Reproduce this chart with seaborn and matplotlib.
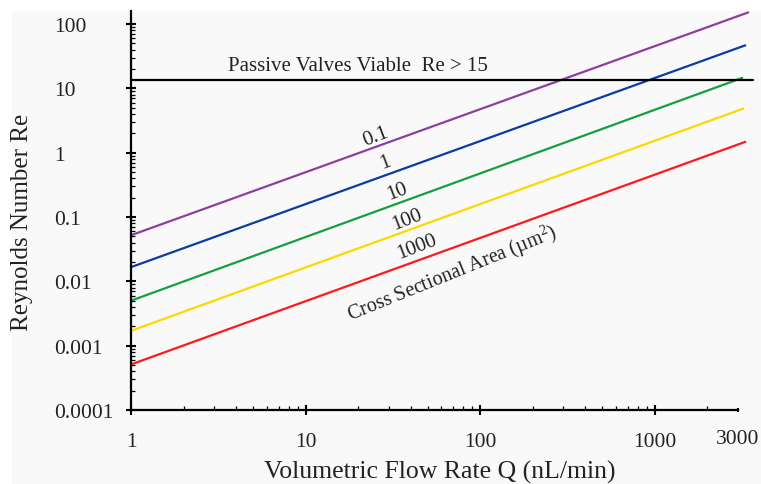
import numpy as np
import pandas as pd
import matplotlib
matplotlib.use('Agg')
import matplotlib.pyplot as plt
from matplotlib.patches import Rectangle
from matplotlib.ticker import LogLocator, NullFormatter
import seaborn as sns

# values (log-log straight lines, two ends each)
areas = ['0.1', '1', '10', '100', '1000']
q_start = [1, 1, 1, 1, 1]
q_end = [3430, 3300, 3170, 3220, 3300]
re_start = [0.052, 0.0166, 0.0050, 0.0017, 0.00051]
re_end = [151, 46.5, 14.5, 4.84, 1.47]
colors = ['#8b3fa0', '#0c3c9c', '#14a040', '#ffd700', '#ff1a1a']

threshold = 13.3
threshold_q = [1, 3660]

# label positions (data coords)
label_q = [25.4, 28.6, 33.4, 38.2, 43.5]
label_re = [1.80, 0.71, 0.252, 0.0925, 0.0352]

x_ticks = [1, 10, 100, 1000, 3000]
x_ticklabels = ['1', '10', '100', '1000', '3000']
y_ticks = [0.0001, 0.001, 0.01, 0.1, 1, 10, 100]
y_ticklabels = ['0.0001', '0.001', '0.01', '0.1', '1', '10', '100']

rows = []
for a, qs, qe, rs, re_ in zip(areas, q_start, q_end, re_start, re_end):
    rows.append({'area': a, 'Q': qs, 'Re': rs})
    rows.append({'area': a, 'Q': qe, 'Re': re_})
df = pd.DataFrame(rows)

sns.set_theme(style='ticks')
plt.rcParams['font.family'] = ['Liberation Serif', 'DejaVu Serif']
plt.rcParams['mathtext.fontset'] = 'custom'
plt.rcParams['mathtext.rm'] = 'Liberation Serif'
txt = '#222222'

fig = plt.figure(figsize=(7.61, 4.85), dpi=100)
fig.patch.set_facecolor('white')
fig.patches.append(Rectangle((12 / 761, 0), 1, 1 - 12 / 485, transform=fig.transFigure,
                             facecolor='#f9f9f9', edgecolor='none', zorder=-10))
ax = fig.add_axes([131 / 761, 74 / 485, 607 / 761, 399 / 485])
ax.set_facecolor('none')

sns.lineplot(data=df, x='Q', y='Re', hue='area', palette=colors, linewidth=1.6,
             legend=False, ax=ax)
for line in ax.get_lines():
    line.set_clip_on(False)
ax.plot(threshold_q, [threshold, threshold], color='black', linewidth=1.6, clip_on=False)

ax.set_xscale('log')
ax.set_yscale('log')
ax.set_xlim(1, 3000)
ax.set_ylim(1e-4, 159)

sns.despine(ax=ax)
for s in ['left', 'bottom']:
    ax.spines[s].set_linewidth(1.6)
    ax.spines[s].set_color('black')

ax.set_xticks(x_ticks)
ax.set_xticklabels(x_ticklabels)
ax.set_yticks(y_ticks)
ax.set_yticklabels(y_ticklabels)
ax.xaxis.set_minor_locator(LogLocator(base=10, subs=np.arange(2, 10), numticks=20))
ax.yaxis.set_minor_locator(LogLocator(base=10, subs=np.arange(2, 10), numticks=20))
ax.xaxis.set_minor_formatter(NullFormatter())
ax.yaxis.set_minor_formatter(NullFormatter())

ax.tick_params(which='major', direction='inout', length=7, width=1.5, color='black',
               labelsize=15.5, labelcolor=txt)
ax.tick_params(which='minor', direction='in', length=3, width=0.9, color='black')
ax.tick_params(axis='x', which='major', pad=12)
ax.tick_params(axis='y', which='major', pad=52)
for lab in ax.get_yticklabels():
    lab.set_horizontalalignment('left')
ax.xaxis.get_major_ticks()[-1].tick1line.set_markersize(3)
ax.xaxis.get_major_ticks()[-1].label1.set_y(0.006)

ax.set_xlabel('Volumetric Flow Rate Q (nL/min)', fontsize=18.5, color=txt)
ax.set_ylabel('Reynolds Number Re', fontsize=18, color=txt)
ax.xaxis.set_label_coords(0.509, -0.126)
ax.yaxis.set_label_coords(-0.161, 0.472)

ax.text(3.6, 19.0, 'Passive Valves Viable  Re > 15', fontsize=15, color=txt,
        ha='left', va='baseline')
for a, lq, lr in zip(areas, label_q, label_re):
    ax.text(lq, lr, a, fontsize=15, color=txt, rotation=21, ha='center', va='center',
            rotation_mode='anchor')
ax.text(69.1, 0.0139, 'Cross Sectional Area (µm$^2$)', fontsize=14.5, color=txt,
        rotation=22, ha='center', va='center', rotation_mode='anchor')

fig.savefig('out.png', dpi=100, facecolor=fig.get_facecolor())
